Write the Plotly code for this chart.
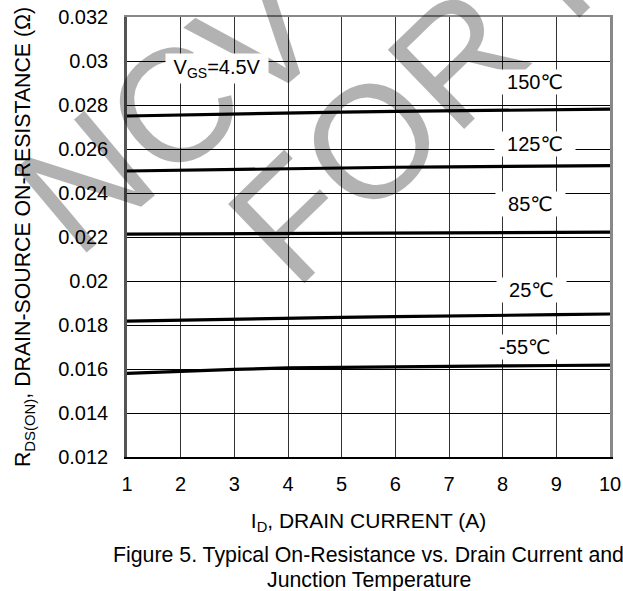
import plotly.graph_objects as go

# Drain current (A)
current_a = [1, 2, 3, 4, 5, 6, 7, 8, 9, 10]

# On-resistance (ohm) per junction temperature
r_150c = [0.02750, 0.02755, 0.02760, 0.02765, 0.02768, 0.02771, 0.02774, 0.02776, 0.02778, 0.02781]
r_125c = [0.02500, 0.02504, 0.02508, 0.02512, 0.02515, 0.02517, 0.02519, 0.02521, 0.02523, 0.02524]
r_85c = [0.02213, 0.02214, 0.02215, 0.02216, 0.02217, 0.02218, 0.02219, 0.02220, 0.02221, 0.02222]
r_25c = [0.01818, 0.01823, 0.01828, 0.01832, 0.01835, 0.01838, 0.01840, 0.01844, 0.01847, 0.01850]
r_m55c = [0.01580, 0.01590, 0.01598, 0.01605, 0.01608, 0.01610, 0.01612, 0.01614, 0.01616, 0.01618]

series = [
    ("150℃", r_150c),
    ("125℃", r_125c),
    ("85℃", r_85c),
    ("25℃", r_25c),
    ("-55℃", r_m55c),
]

# Curve labels (x, y in data units)
label_text = ["150℃", "125℃", "85℃", "25℃", "-55℃"]
label_x = [8.6, 8.6, 8.52, 8.53, 8.42]
label_y = [0.02905, 0.02625, 0.02348, 0.01959, 0.01698]

x_ticks = [1, 2, 3, 4, 5, 6, 7, 8, 9, 10]
y_ticks = [0.012, 0.014, 0.016, 0.018, 0.02, 0.022, 0.024, 0.026, 0.028, 0.03, 0.032]
y_tick_text = ["0.012", "0.014", "0.016", "0.018", "0.02", "0.022", "0.024", "0.026", "0.028", "0.03", "0.032"]

caption_lines = ["Figure 5. Typical On-Resistance vs. Drain Current and", "Junction Temperature"]

# Watermark words (partly outside the figure)
watermark_text = ["NCV", "FOR R"]

FONT = "Liberation Sans, Arial, DejaVu Sans, sans-serif"

fig = go.Figure()
for name, vals in series:
    fig.add_trace(go.Scatter(x=current_a, y=vals, mode="lines", name=name,
                             line=dict(color="black", width=3.2), showlegend=False))

# invisible trace to enable top/right frame axes
fig.add_trace(go.Scatter(x=[1], y=[0.012], xaxis="x2", yaxis="y2", mode="none",
                         showlegend=False, hoverinfo="skip"))

# watermark (paper coords)
for txt, px, py, ang in zip(watermark_text, [0.090, 0.639], [0.790, 0.857], [-40, -44]):
    fig.add_annotation(x=px, y=py, xref="paper", yref="paper", text=txt, showarrow=False,
                       textangle=ang, xanchor="center", yanchor="middle",
                       font=dict(family=FONT, size=160, color="rgba(0,0,0,0.30)"))

for t, x, y in zip(label_text, label_x, label_y):
    fig.add_annotation(x=x, y=y, xref="x", yref="y", text="\u00a0\u00a0" + t + "\u00a0\u00a0",
                       showarrow=False, bgcolor="white", borderpad=1,
                       font=dict(family=FONT, size=20, color="black"))

fig.add_annotation(x=2.68, y=0.02968, xref="x", yref="y",
                   text="\u00a0V<sub>GS</sub>=4.5V\u00a0", showarrow=False,
                   bgcolor="white", borderpad=2,
                   font=dict(family=FONT, size=20, color="black"))

for line, py in zip(caption_lines, [-0.2227, -0.2795]):
    fig.add_annotation(x=0.5, y=py, xref="paper", yref="paper", xanchor="center", yanchor="middle",
                       text=line, showarrow=False,
                       font=dict(family=FONT, size=21.3, color="black"))

fig.update_layout(
    width=623, height=591,
    margin=dict(l=127, r=13, t=17, b=134, autoexpand=False),
    paper_bgcolor="white", plot_bgcolor="white",
    font=dict(family=FONT, size=20, color="black"),
    xaxis=dict(range=[1, 10], tickvals=x_ticks, showgrid=True, gridcolor="#333", gridwidth=1,
               showline=True, linecolor="black", linewidth=2, zeroline=False,
               ticks="", ticklabelstandoff=8, automargin=False,
               tickfont=dict(family=FONT, size=20),
               title=dict(text="I<sub>D</sub>, DRAIN CURRENT (A)", standoff=19,
                          font=dict(family=FONT, size=21))),
    yaxis=dict(range=[0.012, 0.032], tickvals=y_ticks, ticktext=y_tick_text,
               showgrid=True, gridcolor="black", gridwidth=1,
               showline=True, linecolor="#555", linewidth=2.5, zeroline=False,
               ticks="", ticklabelstandoff=12, automargin=False,
               tickfont=dict(family=FONT, size=20),
               title=dict(text="R<sub>DS(ON)</sub>, DRAIN-SOURCE ON-RESISTANCE (Ω)", standoff=22,
                          font=dict(family=FONT, size=21.3))),
    xaxis2=dict(range=[1, 10], overlaying="x", side="top", showgrid=False, showticklabels=False,
                showline=True, linecolor="#888", linewidth=2, zeroline=False, ticks="",
                automargin=False),
    yaxis2=dict(range=[0.012, 0.032], overlaying="y", side="right", showgrid=False,
                showticklabels=False, showline=True, linecolor="#888", linewidth=2.5,
                zeroline=False, ticks="", automargin=False),
)

fig.write_html("out.html", config={"displayModeBar": False},
               post_script="document.body.style.margin='0px';")
